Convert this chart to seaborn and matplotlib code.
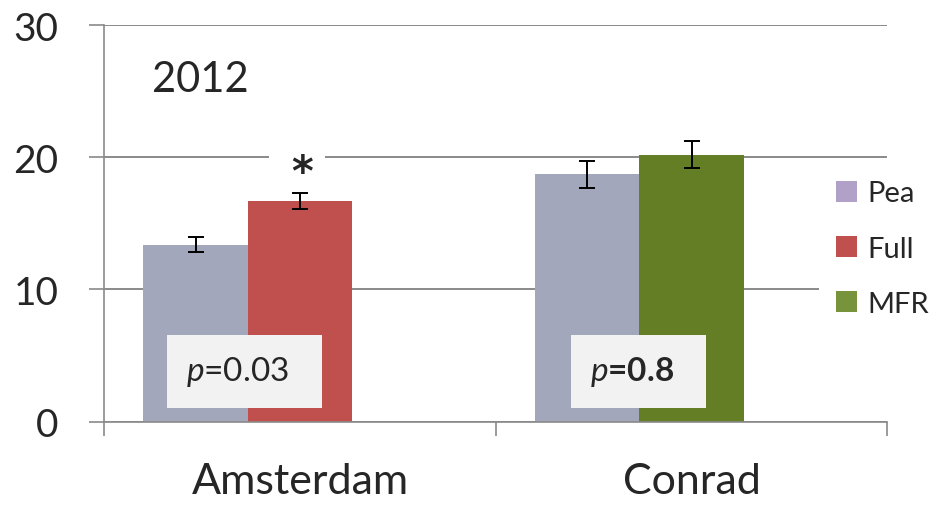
import matplotlib
matplotlib.use("Agg")
import matplotlib.pyplot as plt
from matplotlib.patches import Rectangle, Patch
import seaborn as sns
import pandas as pd

# --- data -------------------------------------------------------------
cities = ["Amsterdam", "Conrad"]
pea_means = [13.4, 18.7]
pea_err = [0.6, 1.0]
treat_names = ["Full", "MFR"]
treat_means = [16.7, 20.2]
treat_err = [0.6, 1.0]
p_values = ["0.03", "0.8"]
significant = [True, False]
year_label = "2012"
y_ticks = [0, 10, 20, 30]

# --- style ------------------------------------------------------------
sns.set_style("white")
plt.rcParams["font.family"] = ["Lato", "DejaVu Sans"]
plt.rcParams["mathtext.fontset"] = "custom"
plt.rcParams["mathtext.it"] = "Lato:italic"
plt.rcParams["mathtext.rm"] = "Lato"

PEA_BAR = "#A3A7BC"
PEA_KEY = "#B1A0C7"
TREAT_BAR = {"Full": "#C0504D", "MFR": "#647E26"}
TREAT_KEY = {"Full": "#C0504D", "MFR": "#77933C"}
GRID = "#8A8A8A"

df = pd.DataFrame({
    "city": cities * 2,
    "slot": ["Pea"] * len(cities) + ["Treatment"] * len(cities),
    "value": pea_means + treat_means,
})

fig = plt.figure(figsize=(9.37, 5.06), dpi=100)
ax = fig.add_axes([0.1113, 0.1646, 0.8357, 0.784])

sns.barplot(data=df, x="city", y="value", hue="slot",
            hue_order=["Pea", "Treatment", "Spare"], order=cities,
            palette=[PEA_BAR, "#C0504D", "white"], saturation=1,
            errorbar=None, width=0.8, dodge=True, legend=False, ax=ax,
            zorder=2)

# colour bars per city and add error bars
err_lookup = {"Pea": pea_err, "Treatment": treat_err}
for slot, container in zip(["Pea", "Treatment"], ax.containers):
    for patch in container.patches:
        xc = patch.get_x() + patch.get_width() / 2
        ci = int(round(xc))
        h = patch.get_height()
        patch.set_edgecolor("none")
        if slot == "Treatment":
            patch.set_facecolor(TREAT_BAR[treat_names[ci]])
        ax.errorbar(xc, h, yerr=err_lookup[slot][ci], fmt="none",
                    ecolor="black", elinewidth=1.4, capsize=6,
                    capthick=1.4, zorder=4)
        if slot == "Treatment" and significant[ci]:
            star_y = h + err_lookup[slot][ci] + 1.5
            # white patch behind the star breaks the grid line
            ax.add_patch(Rectangle((xc - 0.08, star_y - 0.3), 0.145, 2.0,
                                   facecolor="white", edgecolor="none",
                                   zorder=1))
            ax.text(xc + 0.005, star_y, "*", ha="center", va="center",
                    fontsize=30, fontweight="bold", family="DejaVu Sans",
                    zorder=5)

# p-value boxes
box_spans = [(-0.34, 0.056), (-0.308, 0.036)]
p_weights = ["normal", "bold"]
for ci, (pv, (x0, x1)) in enumerate(zip(p_values, box_spans)):
    ax.add_patch(Rectangle((ci + x0, 1.04), x1 - x0, 5.52,
                           facecolor="#F2F2F2", edgecolor="none", zorder=3))
    ax.text(ci + x0 + 0.048, 3.85, f"$p$=" + pv, ha="left", va="center",
            fontsize=24, fontweight=p_weights[ci], zorder=4)

ax.text(0.061, 25.9, year_label, transform=ax.get_yaxis_transform(),
        ha="left", va="center", fontsize=30)

# axes
ax.set_xlim(-0.5, len(cities) - 0.5)
ax.set_ylim(0, 30)
ax.set_yticks(y_ticks)
ax.set_yticklabels([str(t) for t in y_ticks])
ax.set_xlabel("")
ax.set_ylabel("")
ax.yaxis.grid(True, color=GRID, linewidth=1.4, zorder=0)
ax.set_axisbelow(True)
for side in ["top", "right"]:
    ax.spines[side].set_visible(False)
for side in ["left", "bottom"]:
    ax.spines[side].set_color(GRID)
    ax.spines[side].set_linewidth(1.2)
ax.tick_params(axis="y", direction="out", length=11, width=1.2,
               color=GRID, pad=22, labelsize=28, left=True)
ax.tick_params(axis="x", which="major", length=0, pad=29, labelsize=31)
ax.set_xticks([i - 0.5 for i in range(len(cities) + 1)], minor=True)
ax.tick_params(axis="x", which="minor", direction="out", length=10,
               width=1.2, color=GRID, bottom=True)

handles = [Patch(facecolor=PEA_KEY, edgecolor="none", label="Pea")]
handles += [Patch(facecolor=TREAT_KEY[n], edgecolor="none", label=n)
            for n in treat_names]
leg = fig.legend(handles=handles, loc="upper left",
                 bbox_to_anchor=(0.858, 0.705), frameon=True,
                 facecolor="white", edgecolor="none", framealpha=1,
                 fontsize=21, handlelength=0.72, handleheight=0.72,
                 handletextpad=0.35, labelspacing=1.0, borderpad=0.6)

fig.savefig("out.png", dpi=100)
